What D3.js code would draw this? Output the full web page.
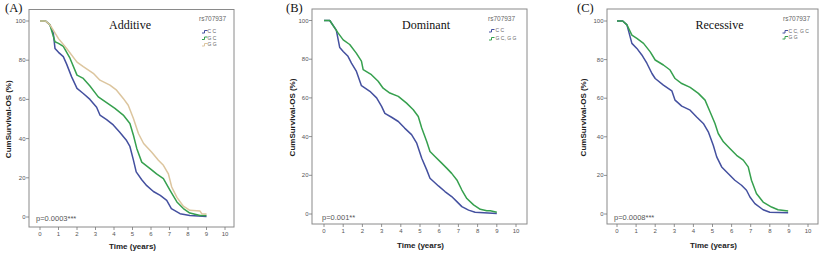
<!DOCTYPE html>
<html lang="en">
<head>
<meta charset="UTF-8">
<title>rs707937 survival curves</title>
<script src="https://d3js.org/d3.v7.min.js"></script>
<style>
  body { margin: 0; background: #fff; }
  svg { display: block; font-family: Arial, "Liberation Sans", sans-serif; }
  .box { fill: none; stroke: #8a8a8a; stroke-width: 1; }
  .tick-lab { font-size: 6px; fill: #555; }
  .axis-title { font-size: 8px; font-weight: bold; fill: #222; text-anchor: middle; }
  .panel-tag, .model { font-family: "Liberation Serif", "Times New Roman", serif; fill: #111; }
  .panel-tag { font-size: 12.5px; }
  .model { font-size: 12px; text-anchor: middle; }
  .pval { font-size: 7.5px; fill: #555; }
  .leg-head { font-size: 6.5px; fill: #666; }
  .leg-lab { font-size: 5px; fill: #666; }
</style>
</head>
<body>
<div id="chart"></div>
<script>

// x ticks (years) and y ticks (%)
const xTicks = [0,1,2,3,4,5,6,7,8,9,10];
const yTicks = [0,20,40,60,80,100];

// Panel A - additive model: [time, cum survival %]
const addCC = [[0,100],[0.3,100],[0.54,98],[0.72,93.7],[0.81,86],[1,84],[1.26,81.8],[1.44,78],[1.71,71.5],[2,65.6],[2.34,63],[2.7,60],[3.06,56],[3.24,52],[3.6,49.7],[3.96,47],[4.3,43.4],[4.68,39],[4.86,36],[5.05,29],[5.2,23],[5.5,19],[5.77,16],[6.13,13],[6.5,11],[6.85,8.5],[7.1,4.3],[7.57,1.7],[8.1,0.8],[9,0.3]];
const addGC = [[0,100],[0.3,100],[0.54,98],[0.81,89.4],[1,88.6],[1.26,87],[1.62,81],[2,72.4],[2.34,70.7],[2.7,66.8],[3.15,61.3],[3.6,58.3],[4.05,55.4],[4.5,52],[4.86,47.7],[5.05,41.7],[5.23,35],[5.5,28],[5.95,24.7],[6.3,22],[6.67,19.6],[7.03,13.6],[7.4,7.7],[7.75,4.3],[8.1,2],[8.65,0.8],[9,0.8]];
const addGG = [[0,100],[0.3,100],[0.54,98],[1,91],[1.44,86],[2,79],[2.34,76.7],[2.88,73.3],[3.24,69.8],[3.78,67.3],[4.14,64.7],[4.5,60.5],[4.77,57],[5.05,50.3],[5.32,42.6],[5.6,37.5],[6.04,33],[6.4,29],[6.67,26.4],[6.94,22],[7.12,15.3],[7.4,10],[7.75,5.5],[8.1,3.4],[8.65,3],[8.74,1.7],[9,1.5]];

// Panel B - dominant model
const domCC = [[0,100],[0.3,100],[0.64,95],[0.82,86],[1,84],[1.25,81.5],[1.43,78],[1.69,73.7],[1.95,66.3],[2.39,63.4],[2.74,60],[3,55.6],[3.17,52],[3.52,50],[3.87,47.8],[4.2,44.4],[4.56,41],[4.83,36.6],[5.09,28.8],[5.35,22.8],[5.52,18.5],[5.96,14.5],[6.3,11.6],[6.65,9],[6.92,6.4],[7.18,3.8],[7.53,2],[7.87,0.9],[9,0.3]];
const domGX = [[0,100],[0.3,100],[0.73,93.6],[1,90],[1.34,87.6],[1.69,83],[1.95,79],[2.04,74.6],[2.47,72],[2.82,68.6],[3.08,65],[3.43,62.5],[3.87,60.8],[4.3,57.3],[4.65,53.9],[4.91,50.4],[5.09,44.4],[5.35,37.5],[5.52,32.3],[5.78,29.7],[6.13,26.3],[6.39,23.7],[6.65,21],[6.92,17.6],[7.18,12.4],[7.44,8],[7.79,4.7],[8.14,2.4],[8.48,1.7],[8.66,1.7],[9,0.9]];

// Panel C - recessive model
const recCX = [[0,100],[0.3,100],[0.52,98],[0.78,88.4],[1.04,85.8],[1.3,82.4],[1.57,78],[1.83,72.8],[2,70.2],[2.43,66.8],[2.87,63.8],[3.04,59],[3.39,55.9],[3.83,53.8],[4.17,50.3],[4.52,46.9],[4.78,42.6],[5.04,35.6],[5.22,29.6],[5.48,24.4],[5.83,20.9],[6.17,17.5],[6.52,14.9],[6.78,12.3],[6.96,8.8],[7.22,5.4],[7.65,2.2],[8,0.9],[8.96,0.7]];
const recGG = [[0,100],[0.3,100],[0.52,98],[0.78,92.7],[1.04,91],[1.39,88.4],[1.74,84],[2,79.8],[2.43,77.2],[2.78,74.6],[3.04,70.2],[3.39,67.6],[3.83,65.6],[4.26,62.5],[4.61,59],[4.87,53],[5.13,46.9],[5.3,41.7],[5.57,37.4],[5.91,33.9],[6.26,30.4],[6.61,27.9],[6.87,24.4],[7.04,17.5],[7.3,10.6],[7.65,6.2],[8.09,3.6],[8.43,2.2],[8.96,1.6]];

const blue = "#44509f", green = "#36a04e", tan = "#dcc59e";

const panels = [
  { tag: "(A)", tagX: 5, title: "Additive", titleX: 130, p: "p=0.0003***", pX: 36, pY: 221,
    box: [29, 9.5, 234, 227], xr: [40, 225], yr: [217, 21], ylabX: 8, xlabY: 249, tickY: 236,
    leg: { x: 199, y: 21, sx: 202, tx: 207.5, y0: 33, dy: 6.5 },
    series: [{ name: "C C", data: addCC, color: blue }, { name: "G C", data: addGC, color: green }, { name: "G G", data: addGG, color: tan }] },
  { tag: "(B)", tagX: 286, title: "Dominant", titleX: 426, p: "p=0.001**", pX: 322, pY: 220,
    box: [312, 9, 527, 224], xr: [324, 516], yr: [214, 20.5], ylabX: 292, xlabY: 248, tickY: 233,
    leg: { x: 488, y: 21, sx: 489, tx: 495.5, y0: 32, dy: 8 },
    series: [{ name: "C C", data: domCC, color: blue }, { name: "G C, G G", data: domGX, color: green }] },
  { tag: "(C)", tagX: 577, title: "Recessive", titleX: 719.5, p: "p=0.0008***", pX: 614, pY: 220,
    box: [607, 9, 818, 224], xr: [617, 808], yr: [214, 21], ylabX: 583, xlabY: 248, tickY: 233,
    leg: { x: 783, y: 21, sx: 782.5, tx: 788.5, y0: 33, dy: 6 },
    series: [{ name: "C C, G C", data: recCX, color: blue }, { name: "G G", data: recGG, color: green }] }
];

const svg = d3.select("#chart").append("svg")
  .attr("width", 825).attr("height", 253);

panels.forEach(pn => {
  const g = svg.append("g");
  const [bl, bt, br, bb] = pn.box;
  const x = d3.scaleLinear().domain([0, 10]).range(pn.xr);
  const y = d3.scaleLinear().domain([0, 100]).range(pn.yr);

  // frame
  g.append("rect").attr("class", "box")
    .attr("x", bl).attr("y", bt).attr("width", br - bl).attr("height", bb - bt);

  // y ticks
  yTicks.forEach(t => {
    g.append("line").attr("x1", bl - 3).attr("x2", bl).attr("y1", y(t)).attr("y2", y(t))
      .attr("stroke", "#777").attr("stroke-width", 0.8);
    g.append("text").attr("class", "tick-lab").attr("x", bl - 3.5).attr("y", y(t) + 2)
      .attr("text-anchor", "end").text(t);
  });

  // x ticks
  xTicks.forEach(t => {
    g.append("line").attr("x1", x(t)).attr("x2", x(t)).attr("y1", bb).attr("y2", bb + 3)
      .attr("stroke", "#777").attr("stroke-width", 0.8);
    g.append("text").attr("class", "tick-lab").attr("x", x(t)).attr("y", pn.tickY)
      .attr("text-anchor", "middle").text(t);
  });

  // axis titles
  g.append("text").attr("class", "axis-title")
    .attr("x", (bl + br) / 2 + 1).attr("y", pn.xlabY).text("Time (years)");
  g.append("text").attr("class", "axis-title")
    .attr("transform", `translate(${pn.ylabX + 3},${(bt + bb) / 2 + 1}) rotate(-90)`)
    .text("CumSurvival-OS (%)");

  // curves
  const line = d3.line().x(d => x(d[0])).y(d => y(d[1])).curve(d3.curveLinear);
  pn.series.forEach(s => {
    g.append("path").datum(s.data).attr("d", line)
      .attr("fill", "none").attr("stroke", s.color).attr("stroke-width", 1.5)
      .attr("stroke-linejoin", "round");
  });

  // labels
  g.append("text").attr("class", "panel-tag").attr("x", pn.tagX).attr("y", 12).text(pn.tag);
  g.append("text").attr("class", "model").attr("x", pn.titleX).attr("y", 29).text(pn.title);
  g.append("text").attr("class", "pval").attr("x", pn.pX).attr("y", pn.pY).text(pn.p);

  // legend
  const lg = pn.leg;
  g.append("text").attr("class", "leg-head").attr("x", lg.x).attr("y", lg.y).text("rs707937");
  pn.series.forEach((s, i) => {
    const yy = lg.y0 + i * lg.dy;
    g.append("path")
      .attr("d", `M${lg.sx},${yy} H${lg.sx + 2.5} V${yy - 2.5} H${lg.sx + 5.5}`)
      .attr("fill", "none").attr("stroke", s.color).attr("stroke-width", 1);
    g.append("text").attr("class", "leg-lab").attr("x", lg.tx).attr("y", yy).text(s.name);
  });
});

</script>
</body>
</html>
